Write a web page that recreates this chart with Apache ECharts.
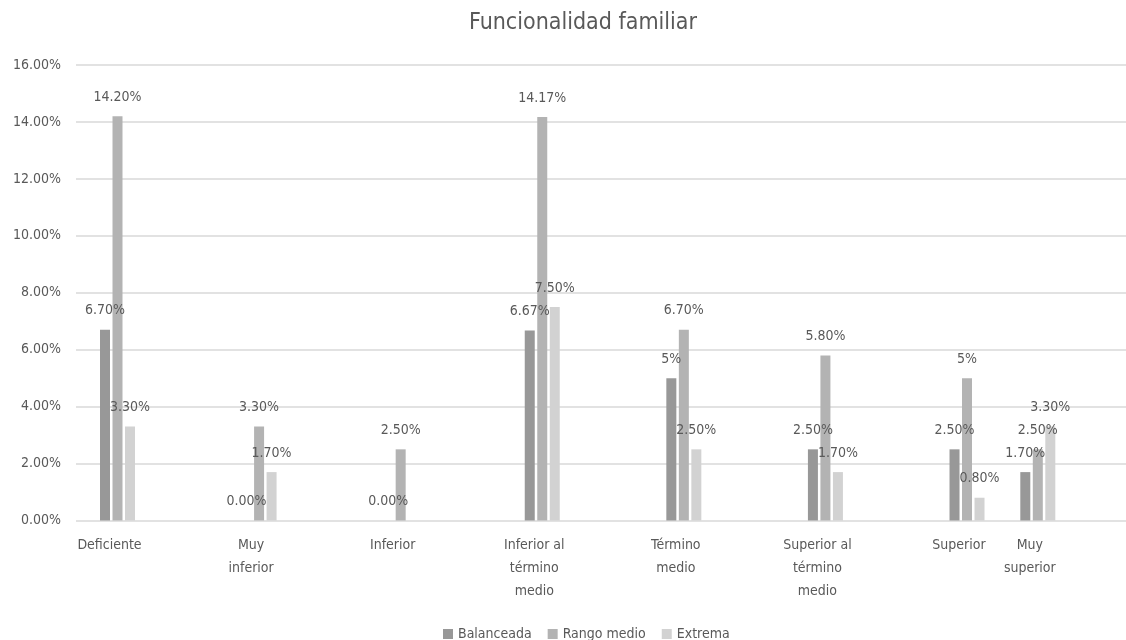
<!DOCTYPE html>
<html>
<head>
<meta charset="utf-8">
<script src="https://cdn.jsdelivr.net/npm/echarts@6/dist/echarts.min.js"></script>
<style>
  html, body { margin: 0; padding: 0; background: #ffffff; }
  #chart { width: 1126px; height: 640px; }
</style>
</head>
<body>
<div id="chart"></div>
<script>
// Category tick labels (line breaks as they wrap under the axis)
const categories = [
  'Deficiente',
  'Muy\ninferior',
  'Inferior',
  'Inferior al\ntérmino\nmedio',
  'Término\nmedio',
  'Superior al\ntérmino\nmedio',
  'Superior',
  'Muy\nsuperior'
];

// Percentages per series (null = no bar)
const balanceada = [6.70, 0.00, 0.00, 6.67, 5, 2.50, 2.50, 1.70];
const rangoMedio = [14.20, 3.30, 2.50, 14.17, 6.70, 5.80, 5, 2.50];
const extrema    = [3.30, 1.70, null, 7.50, 2.50, 1.70, 0.80, 3.30];

const seriesNames = ['Balanceada', 'Rango medio', 'Extrema'];

// Value axis ticks
const yMin = 0, yMax = 16, yStep = 2;

// Layout: each category sits in a slot of a finer category axis
const slotCount = 14;
const slotOf = [0, 2, 4, 6, 8, 10, 12, 13];

function toSlots(values) {
  const out = new Array(slotCount).fill(null);
  values.forEach((v, i) => { out[slotOf[i]] = v; });
  return out;
}
const slotLabels = toSlots(categories).map(v => v == null ? '' : v);

const textColor = '#595959';
const fontFamily = '"Liberation Sans Narrow", "DejaVu Sans Condensed", Lato, sans-serif';
const colors = ['#989898', '#b3b3b3', '#d2d2d2'];

function pct(v) {
  if (v == null) return '';
  if (v !== 0 && Number.isInteger(v)) return v + '%';
  return v.toFixed(2) + '%';
}

const makeSeries = (name, values, color) => ({
  name: name,
  type: 'bar',
  xAxisIndex: 1,
  yAxisIndex: 1,
  data: toSlots(values),
  barWidth: 10,
  barGap: '25%',
  itemStyle: { color: color },
  label: {
    show: true,
    position: 'top',
    distance: 12,
    color: textColor,
    fontSize: 14,
    fontFamily: fontFamily,
    formatter: p => pct(p.value)
  }
});

const chart = echarts.init(document.getElementById('chart'), null, { renderer: 'canvas' });

chart.setOption({
  animation: false,
  backgroundColor: '#ffffff',
  color: colors,
  title: {
    text: 'Funcionalidad familiar',
    left: 578,
    top: 7,
    textAlign: 'center',
    textStyle: { color: textColor, fontSize: 23, fontWeight: 'normal', fontFamily: fontFamily }
  },
  legend: {
    data: seriesNames,
    left: 438,
    top: 622,
    icon: 'rect',
    itemWidth: 10,
    itemHeight: 10,
    itemGap: 16,
    textStyle: { color: textColor, fontSize: 14, fontFamily: fontFamily }
  },
  grid: [
    { left: 76, right: 0, top: 65, bottom: 119.5 },
    { left: 82.1, right: 52.8, top: 65, bottom: 119.5 }
  ],
  xAxis: [
    { type: 'category', gridIndex: 0, data: slotLabels, show: false },
    {
      type: 'category',
      gridIndex: 1,
      data: slotLabels,
      axisLine: { show: false },
      axisTick: { show: false },
      axisLabel: {
        interval: 0,
        color: textColor,
        fontSize: 14,
        fontFamily: fontFamily,
        lineHeight: 23,
        margin: 13,
        padding: [0, 16, 0, 0]
      }
    }
  ],
  yAxis: [
    {
      type: 'value',
      gridIndex: 0,
      min: yMin, max: yMax, interval: yStep,
      axisLine: { show: false },
      axisTick: { show: false },
      axisLabel: {
        color: textColor,
        fontSize: 14,
        fontFamily: fontFamily,
        margin: 15,
        formatter: v => v.toFixed(2) + '%'
      },
      splitLine: { lineStyle: { color: '#d9d9d9', width: 1.5 } }
    },
    {
      type: 'value',
      gridIndex: 1,
      min: yMin, max: yMax, interval: yStep,
      show: false,
      splitLine: { show: false }
    }
  ],
  series: [
    makeSeries(seriesNames[0], balanceada, colors[0]),
    makeSeries(seriesNames[1], rangoMedio, colors[1]),
    makeSeries(seriesNames[2], extrema, colors[2])
  ]
});
</script>
</body>
</html>
